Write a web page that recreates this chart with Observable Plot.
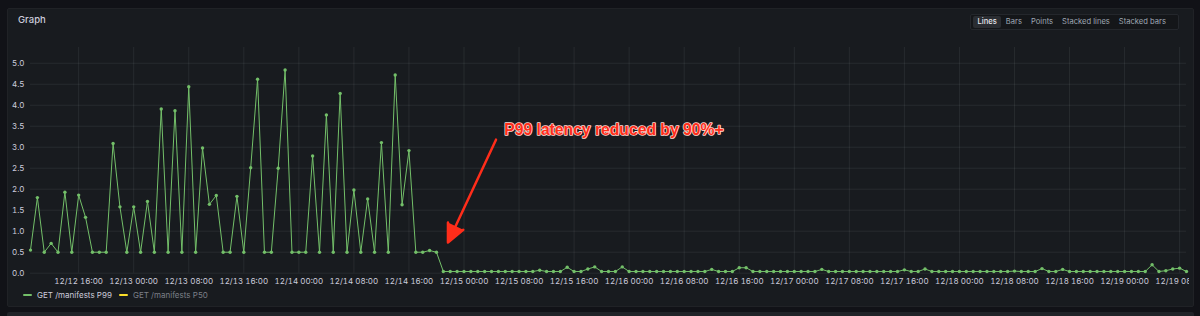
<!DOCTYPE html>
<html><head><meta charset="utf-8">
<script src="https://cdn.jsdelivr.net/npm/d3@7"></script>
<script src="https://cdn.jsdelivr.net/npm/@observablehq/plot@0.6"></script>
<style>
html,body{margin:0;padding:0;background:#111217;width:1200px;height:316px;overflow:hidden;font-family:Inter,"DejaVu Sans",sans-serif;}
#panel{position:absolute;left:7px;top:8px;width:1187px;height:299px;background:#181b1f;border:1px solid #202226;border-radius:2px;box-sizing:border-box;}
#next{position:absolute;left:7px;top:312px;width:1187px;height:10px;background:#202328;border-radius:2px;}
#title{position:absolute;left:18px;top:14px;font-size:9.5px;font-weight:500;color:#ccccdc;}
#modes{position:absolute;left:970px;top:14px;height:16px;width:209px;box-sizing:border-box;border:1px solid #24272c;background:#141619;border-radius:2px;display:flex;align-items:center;padding:0 2px;gap:0;}
#modes span{font-size:7.6px;color:#9fa7b3;padding:2px 4.5px;line-height:8px;border-radius:2px;}
#modes span.sel{background:#2a2d32;color:#e8e8ee;font-weight:500;}
#chart{position:absolute;left:0;top:40px;width:1189px;height:250px;overflow:hidden;}
#legend{position:absolute;left:23px;top:290px;display:flex;align-items:center;font-size:8px;}
#legend .sw{display:inline-block;width:9px;height:2.7px;border-radius:1px;margin-right:5px;}
#legend .it{display:flex;align-items:center;margin-right:7px;}
</style>
</head><body>
<div id="panel"></div>
<div id="next"></div>
<div id="title">Graph</div>
<div id="modes"></div>
<div id="chart"></div>
<div id="legend"></div>
<script>
// ---- data ----
const seriesNames = ["GET /manifests P99", "GET /manifests P50"];
const seriesColors = ["#73bf69", "#fade2a"];
const startTime = "2023-12-12T09:00:00Z"; // hourly samples
const p99 = [
  0.55, 1.80, 0.50, 0.71, 0.50, 1.93, 0.50, 1.86, 1.33, 0.50,
  0.50, 0.50, 3.09, 1.58, 0.50, 1.58, 0.50, 1.71, 0.50, 3.91,
  0.50, 3.87, 0.50, 4.44, 0.50, 2.98, 1.64, 1.85, 0.50, 0.50,
  1.83, 0.50, 2.51, 4.62, 0.50, 0.50, 2.50, 4.84, 0.50, 0.50,
  0.50, 2.79, 0.50, 3.77, 0.50, 4.28, 0.50, 1.98, 0.50, 1.77,
  0.50, 3.11, 0.50, 4.72, 1.63, 2.92, 0.50, 0.50, 0.54, 0.50,
  0.04, 0.04, 0.04, 0.04, 0.04, 0.04, 0.04, 0.04, 0.04, 0.04,
  0.04, 0.04, 0.04, 0.04, 0.07, 0.04, 0.04, 0.04, 0.14, 0.04,
  0.04, 0.10, 0.15, 0.04, 0.04, 0.04, 0.15, 0.04, 0.04, 0.04,
  0.04, 0.04, 0.04, 0.04, 0.04, 0.04, 0.04, 0.04, 0.04, 0.09,
  0.04, 0.04, 0.04, 0.13, 0.13, 0.04, 0.04, 0.04, 0.04, 0.04,
  0.04, 0.04, 0.04, 0.04, 0.04, 0.09, 0.04, 0.04, 0.04, 0.04,
  0.04, 0.04, 0.04, 0.04, 0.04, 0.04, 0.04, 0.08, 0.04, 0.04,
  0.10, 0.04, 0.04, 0.04, 0.04, 0.04, 0.04, 0.04, 0.04, 0.04,
  0.04, 0.04, 0.04, 0.05, 0.04, 0.04, 0.04, 0.11, 0.04, 0.04,
  0.09, 0.04, 0.04, 0.04, 0.04, 0.04, 0.04, 0.04, 0.04, 0.04,
  0.04, 0.04, 0.04, 0.20, 0.04, 0.06, 0.10, 0.12, 0.04
];
const xTicks = [
  "2023-12-12T16:00Z", "2023-12-13T00:00Z", "2023-12-13T08:00Z", "2023-12-13T16:00Z",
  "2023-12-14T00:00Z", "2023-12-14T08:00Z", "2023-12-14T16:00Z", "2023-12-15T00:00Z",
  "2023-12-15T08:00Z", "2023-12-15T16:00Z", "2023-12-16T00:00Z", "2023-12-16T08:00Z",
  "2023-12-16T16:00Z", "2023-12-17T00:00Z", "2023-12-17T08:00Z", "2023-12-17T16:00Z",
  "2023-12-18T00:00Z", "2023-12-18T08:00Z", "2023-12-18T16:00Z", "2023-12-19T00:00Z",
  "2023-12-19T08:00Z"
];
const yTicks = [0, 0.5, 1, 1.5, 2, 2.5, 3, 3.5, 4, 4.5, 5];
const modes = ["Lines", "Bars", "Points", "Stacked lines", "Stacked bars"];
const annotationText = "P99 latency reduced by 90%+";
const annotationTextAt = {t: "2023-12-15T05:51Z", v: 3.40};
const arrowFrom = {t: "2023-12-15T04:39Z", v: 3.18};
const arrowTo = {t: "2023-12-14T21:40Z", v: 0.73};

// ---- build ----
const t0 = new Date(startTime).getTime();
const data = p99.map((v, i) => ({t: new Date(t0 + i * 3600e3), v}));
const tickDates = xTicks.map(s => new Date(s));
const fmt = d3.utcFormat("%m/%d %H:%M");

document.getElementById("modes").innerHTML = modes.map((m, i) => `<span class="${i === 0 ? "sel" : ""}">${m}</span>`).join("");
document.getElementById("legend").innerHTML = seriesNames.map((n, i) =>
  `<div class="it"><span class="sw" style="background:${seriesColors[i]}"></span><span style="color:${i === 0 ? "#ccccdc" : "#7b7f87"}">${n}</span></div>`).join("");

const chart = Plot.plot({
  width: 1189,
  height: 250,
  marginLeft: 30,
  marginRight: 3,
  marginTop: 7,
  marginBottom: 17.3,
  style: {background: "transparent", color: "#ccccdc", fontFamily: "Inter, sans-serif", fontSize: "8px"},
  x: {type: "utc", domain: [data[0].t, data[data.length - 1].t], ticks: tickDates, tickFormat: fmt, tickSize: 0, tickPadding: 5, label: null},
  y: {domain: [0, 5.375], ticks: yTicks, tickFormat: d3.format(".1f"), tickSize: 0, tickPadding: 6, label: null},
  marks: [
    Plot.ruleX(tickDates, {x: d => d, stroke: "rgb(240,250,255)", strokeOpacity: 0.07}),
    Plot.ruleY(yTicks, {y: d => d, stroke: "rgb(240,250,255)", strokeOpacity: 0.07}),
    Plot.line(data, {x: "t", y: "v", stroke: seriesColors[0], strokeWidth: 1}),
    Plot.dot(data, {x: "t", y: "v", r: 1.7, fill: seriesColors[0], stroke: "none"}),
    Plot.arrow([{a: arrowFrom, b: arrowTo}], {
      x1: d => new Date(d.a.t), y1: d => d.a.v, x2: d => new Date(d.b.t), y2: d => d.b.v,
      stroke: "#ff2d1a", fill: "#ff2d1a", strokeWidth: 2.5, headLength: 12, headAngle: 50
    }),
    Plot.text([annotationTextAt], {
      x: d => new Date(d.t), y: "v", text: () => annotationText,
      textAnchor: "start", fill: "#ff2d1a", stroke: "#ffd8d0", strokeWidth: 1.6, paintOrder: "stroke",
      fontSize: 15.7, fontWeight: "bold", fontFamily: "Liberation Sans, Arial, sans-serif"
    })
  ]
});
document.getElementById("chart").appendChild(chart);
</script>
</body></html>
